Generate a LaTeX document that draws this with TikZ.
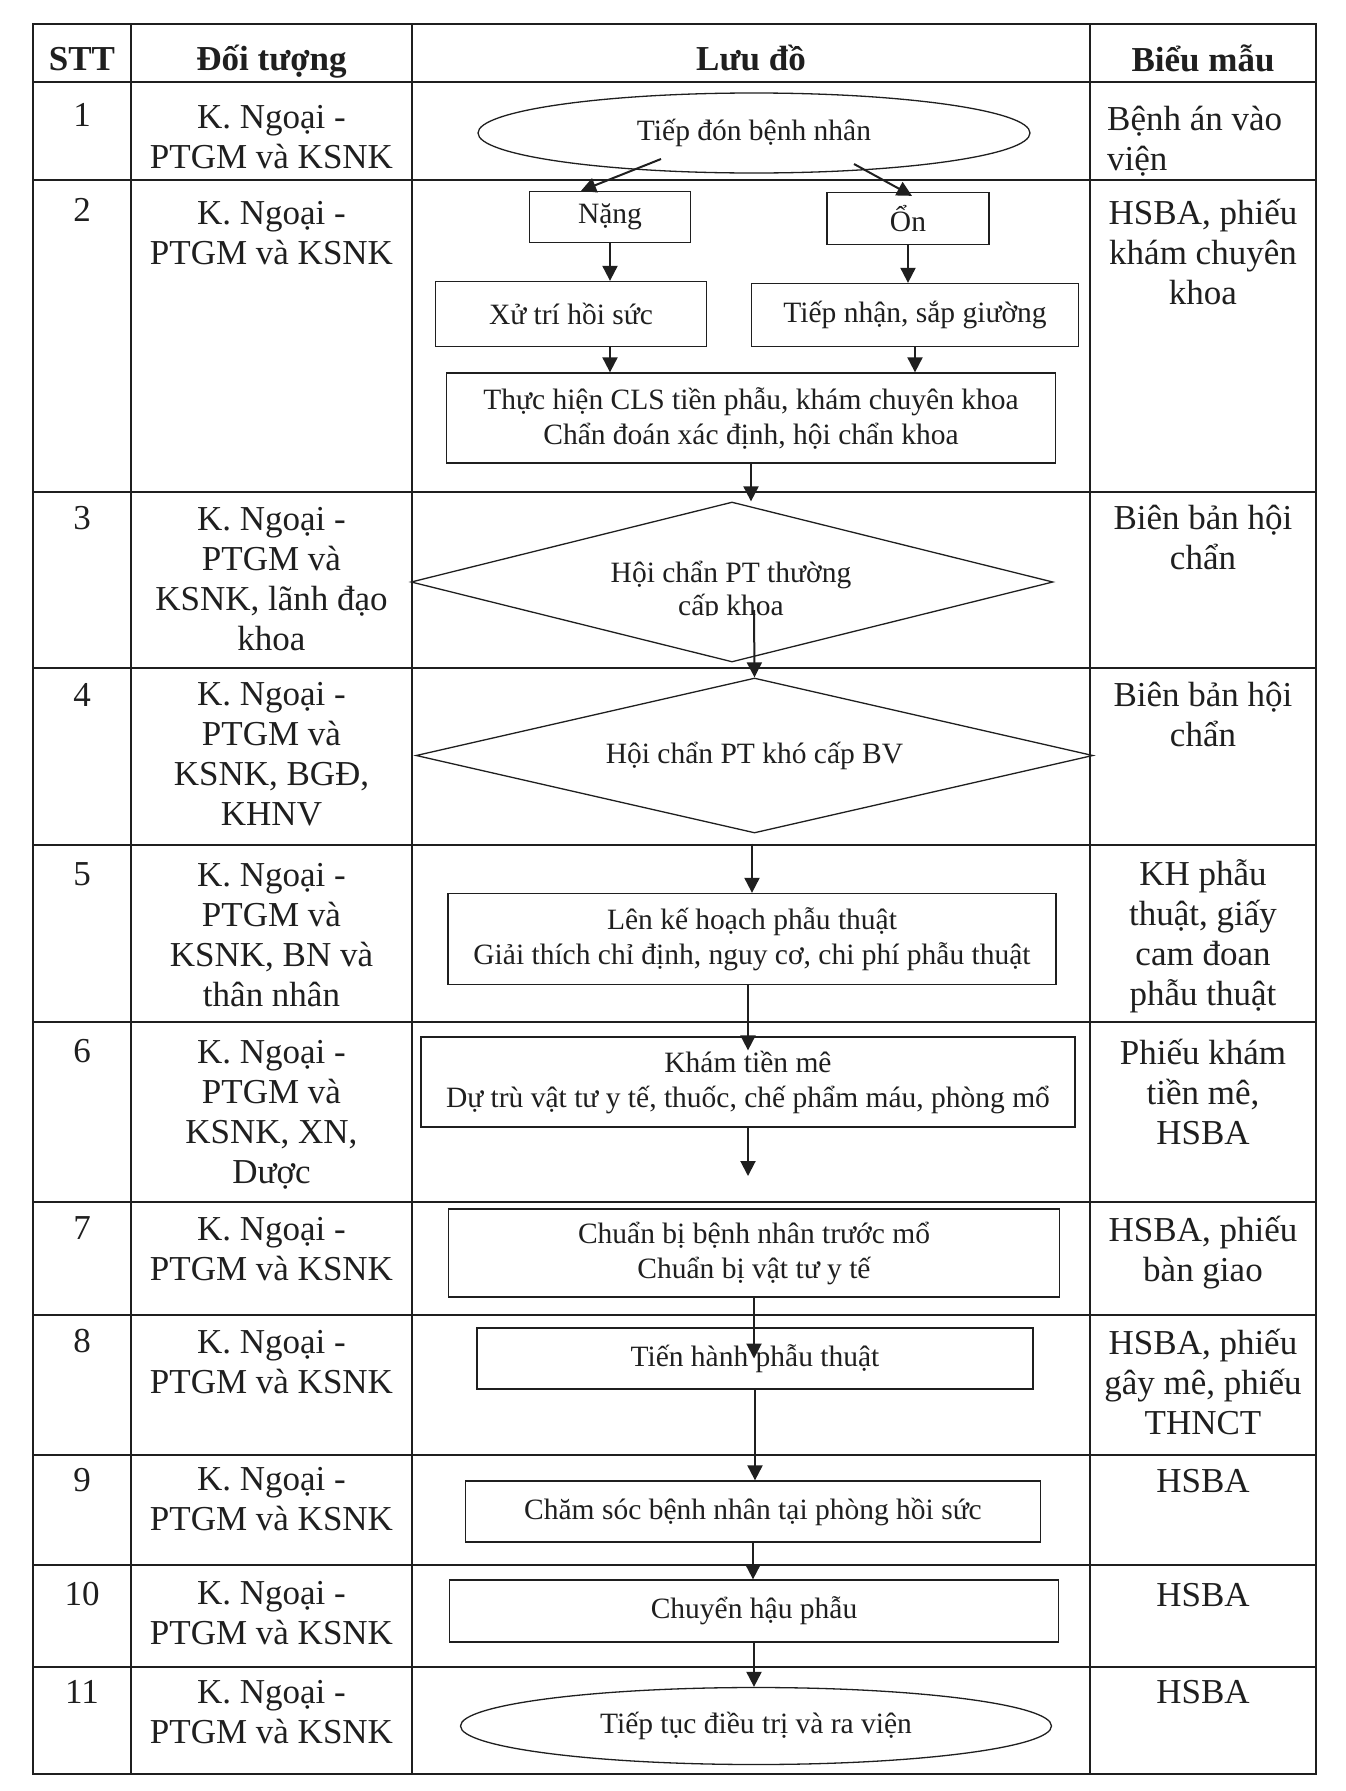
\documentclass[tikz,border=0pt]{standalone}
\usepackage{fontspec}
\setmainfont{Liberation Serif}
\usetikzlibrary{shapes.geometric,arrows.meta,calc}
\newcommand\tabfnt{\fontsize{35}{40}\selectfont}
\newcommand\flowfnt{\fontsize{29.5}{35}\selectfont}
\newcommand\tstr{\rule{0pt}{32pt}}
\definecolor{ink}{gray}{0.12}
\begin{document}
\begin{tikzpicture}[x=1pt,y=-1pt,
  tbl/.style={draw=ink,line width=2pt},
  cell/.style={inner sep=0pt,align=center,font=\tabfnt,text=ink,anchor=north},
  num/.style={inner sep=0pt,font=\tabfnt,text=ink,anchor=base},
  head/.style={inner sep=0pt,font=\tabfnt\bfseries,text=ink,anchor=base},
  box/.style={draw=ink,line width=1.3pt,rectangle,inner sep=0pt,align=center,font=\flowfnt,text=ink},
  oval/.style={box,ellipse},
  dia/.style={box,diamond},
  arr/.style={draw=ink,line width=2pt,-{Triangle[length=15pt,width=15pt]}}]
\fill[white] (0,0) rectangle (1345,1791);
\useasboundingbox (0,0) rectangle (1345,1791);

% table frame
\draw[tbl] (33,24) rectangle (1316,1774);
\foreach \xx in {131,412,1090} \draw[tbl] (\xx,24) -- (\xx,1774);
\foreach \yy in {82,180,492,668,845,1022,1202,1315,1455,1565,1667} \draw[tbl] (33,\yy) -- (1316,\yy);

% header
\node[head] (h1) at (82,70) {STT};
\node[head] (h2) at (271.5,70) {Đối tượng};
\node[head] (h3) at (751,70) {Lưu đồ};
\node[head] (h4) at (1203,71) {Biểu mẫu};

% numbers
\node[num] (n1) at (82,126) {1};
\node[num] (n2) at (82,221) {2};
\node[num] (n3) at (82,529) {3};
\node[num] (n4) at (82,706) {4};
\node[num] (n5) at (82,885) {5};
\node[num] (n6) at (82,1062) {6};
\node[num] (n7) at (82,1239) {7};
\node[num] (n8) at (82,1352) {8};
\node[num] (n9) at (82,1491) {9};
\node[num] (n10) at (82,1605) {10};
\node[num] (n11) at (82,1703) {11};

% Doi tuong
\node[cell] (o1) at (271.5,96) {\tstr K. Ngoại -\\PTGM và KSNK};
\node[cell] (o2) at (271.5,192) {\tstr K. Ngoại -\\PTGM và KSNK};
\node[cell] (o3) at (271.5,498) {\tstr K. Ngoại -\\PTGM và\\KSNK, lãnh đạo\\khoa};
\node[cell] (o4) at (271.5,673) {\tstr K. Ngoại -\\PTGM và\\KSNK, BGĐ,\\KHNV};
\node[cell] (o5) at (271.5,854) {\tstr K. Ngoại -\\PTGM và\\KSNK, BN và\\thân nhân};
\node[cell] (o6) at (271.5,1031) {\tstr K. Ngoại -\\PTGM và\\KSNK, XN,\\Dược};
\node[cell] (o7) at (271.5,1208) {\tstr K. Ngoại -\\PTGM và KSNK};
\node[cell] (o8) at (271.5,1321) {\tstr K. Ngoại -\\PTGM và KSNK};
\node[cell] (o9) at (271.5,1458) {\tstr K. Ngoại -\\PTGM và KSNK};
\node[cell] (o10) at (271.5,1572) {\tstr K. Ngoại -\\PTGM và KSNK};
\node[cell] (o11) at (271.5,1671) {\tstr K. Ngoại -\\PTGM và KSNK};

% Bieu mau
\node[cell,align=left,anchor=north west] (f1) at (1107,98) {\tstr Bệnh án vào\\viện};
\node[cell] (f2) at (1203,192) {\tstr HSBA, phiếu\\khám chuyên\\khoa};
\node[cell] (f3) at (1203,497) {\tstr Biên bản hội\\chẩn};
\node[cell] (f4) at (1203,674) {\tstr Biên bản hội\\chẩn};
\node[cell] (f5) at (1203,853) {\tstr KH phẫu\\thuật, giấy\\cam đoan\\phẫu thuật};
\node[cell] (f6) at (1203,1032) {\tstr Phiếu khám\\tiền mê,\\HSBA};
\node[cell] (f7) at (1203,1209) {\tstr HSBA, phiếu\\bàn giao};
\node[cell] (f8) at (1203,1322) {\tstr HSBA, phiếu\\gây mê, phiếu\\THNCT};
\node[cell] (f9) at (1203,1460) {\tstr HSBA};
\node[cell] (f10) at (1203,1574) {\tstr HSBA};
\node[cell] (f11) at (1203,1671) {\tstr HSBA};

% flowchart nodes
\node[oval,minimum width=552pt,minimum height=80pt] (e1) at (754,133) {Tiếp đón bệnh nhân};
\node[box,minimum width=161pt,minimum height=51pt] (nang) at (610,217) {Nặng};
\node[box,minimum width=162pt,minimum height=52pt] (on) at (908,218.5) {Ổn};
\node[box,minimum width=271pt,minimum height=65pt] (xu) at (571,314) {Xử trí hồi sức};
\node[box,minimum width=327pt,minimum height=63pt] (tn) at (915,315) {Tiếp nhận, sắp giường};
\node[box,minimum width=609pt,minimum height=90pt] (cls) at (751,418) {Thực hiện CLS tiền phẫu, khám chuyên khoa\\Chẩn đoán xác định, hội chẩn khoa};
\node[dia,minimum width=642pt,minimum height=160pt] (d3) at (732,582) {};
\begin{scope}
  \clip (412,492) rectangle (1090,615);
  \node[inner sep=0pt,align=center,font=\fontsize{29.5}{33}\selectfont,text=ink,anchor=north] (d3t) at (731,550) {\tstr Hội chẩn PT thường\\cấp khoa};
\end{scope}
\node[dia,aspect=4.37,minimum width=677pt,minimum height=155pt] (d4) at (754.5,755.5) {Hội chẩn PT khó cấp BV};
\node[box,minimum width=608pt,minimum height=91pt] (b5) at (752,939) {Lên kế hoạch phẫu thuật\\Giải thích chỉ định, nguy cơ, chi phí phẫu thuật};
\node[box,minimum width=654pt,minimum height=90pt] (b6) at (748,1082) {Khám tiền mê\\Dự trù vật tư y tế, thuốc, chế phẩm máu, phòng mổ};
\coordinate (a6) at (748,1176);
\node[box,minimum width=611pt,minimum height=88pt] (b7) at (754,1253) {Chuẩn bị bệnh nhân trước mổ\\Chuẩn bị vật tư y tế};
\node[box,minimum width=556pt,minimum height=61pt] (b8) at (755,1358.5) {Tiến hành phẫu thuật};
\node[box,minimum width=575pt,minimum height=61pt] (b9) at (753,1511.5) {Chăm sóc bệnh nhân tại phòng hồi sức};
\node[box,minimum width=609pt,minimum height=62pt] (b10) at (754,1611) {Chuyển hậu phẫu};
\node[oval,minimum width=591pt,minimum height=77pt] (e11) at (756,1726) {Tiếp tục điều trị và ra viện};

% connectors
\draw[arr] ($(e1.center)+(-93,26)$) -- ($(nang.north)+(-29,0)$);
\draw[arr] ($(e1.center)+(100,31)$) -- ($(on.north)+(4,4)$);
\draw[arr] (nang.south) -- (nang.south |- xu.north);
\draw[arr] (xu.south -| nang.south) -- (cls.north -| nang.south);
\draw[arr] (on.south) -- (on.south |- tn.north);
\draw[arr] (tn.south) -- (tn.south |- cls.north);
\draw[arr] (cls.south) -- (cls.south |- d3.north);
\draw[arr] ($(d3.center)+(22,28)$) -- (d4.north);
\draw[arr] ($(d4.south -| b5.north)+(0,10)$) -- (b5.north);
\draw[arr] (b5.south -| b6.north) -- ($(b6.north)+(0,14)$);
\draw[arr] (b6.south) -- (a6);
\draw[arr] (b7.south) -- (b7.south |- b8.center);
\draw[arr] (b8.south) -- (b8.south |- b9.north);
\draw[arr] (b9.south) -- (b9.south |- b10.north);
\draw[arr] (b10.south) -- (b10.south |- e11.north);
\end{tikzpicture}
\end{document}
